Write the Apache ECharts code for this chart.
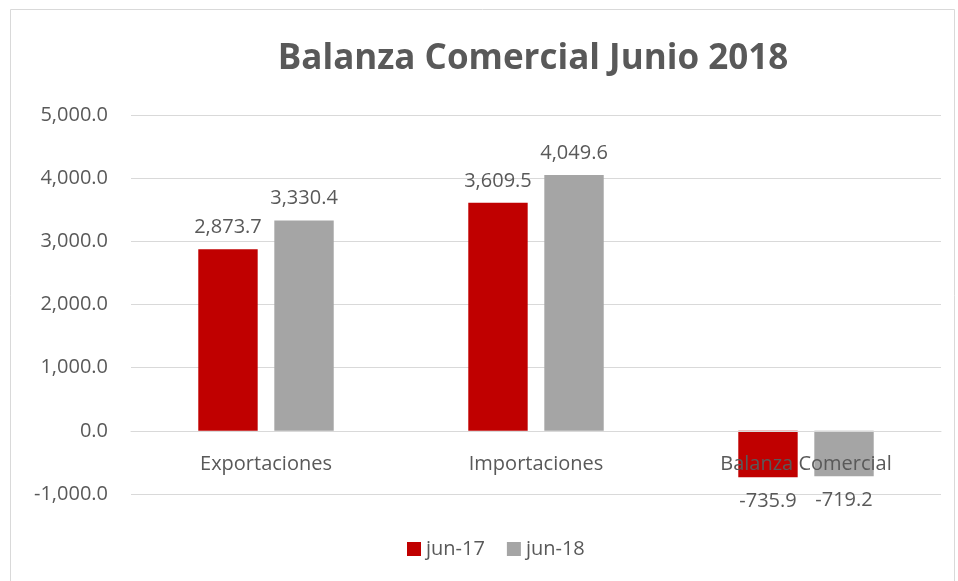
<!DOCTYPE html>
<html><head><meta charset="utf-8">
<script src="https://cdn.jsdelivr.net/npm/echarts@6/dist/echarts.min.js"></script>
<style>html,body{margin:0;padding:0;background:#fff}#c{width:958px;height:581px}</style>
</head><body><div id="c"></div>
<script>
const categories = ['Exportaciones', 'Importaciones', 'Balanza Comercial'];
const jun17 = [2873.7, 3609.5, -735.9];
const jun18 = [3330.4, 4049.6, -719.2];
const seriesNames = ['jun-17', 'jun-18'];
const titleText = 'Balanza Comercial Junio 2018';

const FONT = '"Open Sans", "Liberation Sans", sans-serif';
const TXT = '#595959';
const FS = 20;
const fmt = v => v.toLocaleString('en-US', {minimumFractionDigits: 1, maximumFractionDigits: 1});

function mkSeries(name, data, color) {
  return {
    name, type: 'bar', data: data.map(v => ({
      value: v,
      label: {position: v >= 0 ? 'top' : 'bottom', distance: v >= 0 ? 12 : 14}
    })),
    barWidth: '22%', barGap: '28%',
    itemStyle: {color},
    label: {show: true, formatter: p => fmt(p.value), color: TXT, fontSize: FS, fontFamily: FONT}
  };
}

const chart = echarts.init(document.getElementById('c'));
chart.setOption({
  animation: false,
  graphic: [{type: 'rect', shape: {x: 10.5, y: 9.5, width: 944, height: 600}, style: {fill: 'none', stroke: '#d9d9d9', lineWidth: 1}}],
  title: {text: titleText, left: 528, top: 37, textAlign: 'center',
    textStyle: {color: TXT, fontSize: 35, fontWeight: 'bold', fontFamily: FONT}},
  legend: {top: 534, left: 402, itemWidth: 14, itemHeight: 14, itemGap: 22,
    icon: 'rect',
    textStyle: {color: TXT, fontSize: FS, fontFamily: FONT}, data: seriesNames},
  grid: {left: 131, right: 17, top: 115, bottom: 87, containLabel: false},
  xAxis: {type: 'category', data: categories, z: 5,
    axisLine: {onZero: true, lineStyle: {color: '#d9d9d9'}}, axisTick: {show: false},
    axisLabel: {color: TXT, fontSize: FS, fontFamily: FONT, margin: -40}},
  yAxis: {type: 'value', min: -1000, max: 5000, interval: 1000,
    axisLabel: {color: TXT, fontSize: FS, fontFamily: FONT, margin: 23, formatter: v => fmt(v)},
    axisLine: {show: false}, axisTick: {show: false},
    splitLine: {lineStyle: {color: '#d9d9d9'}}},
  series: [mkSeries(seriesNames[0], jun17, '#c00000'), mkSeries(seriesNames[1], jun18, '#a5a5a5')]
});
</script></body></html>
